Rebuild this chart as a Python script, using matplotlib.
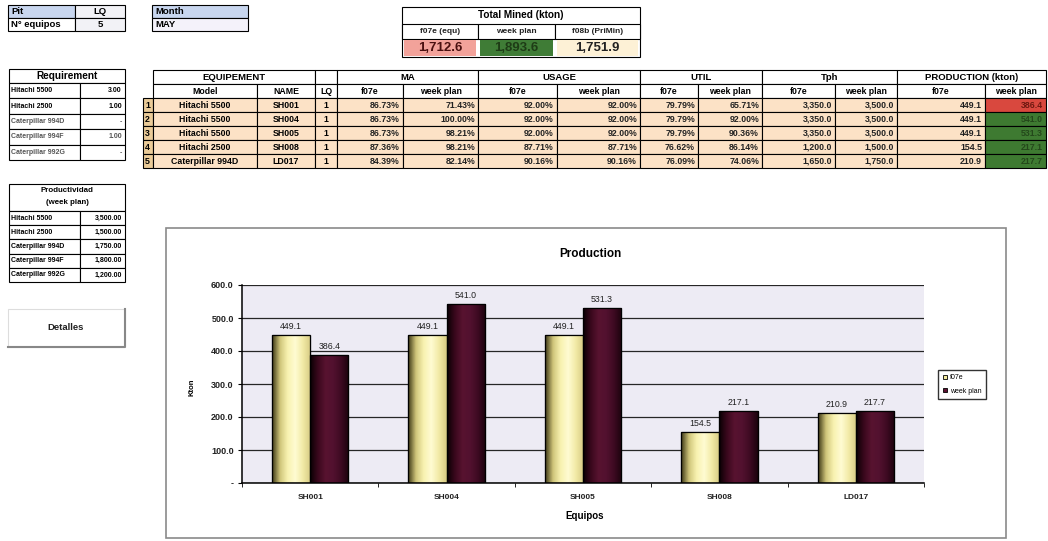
import numpy as np
import matplotlib
matplotlib.use('Agg')
import matplotlib.pyplot as plt
from matplotlib.patches import Rectangle, Patch
from matplotlib.colors import LinearSegmentedColormap

plt.rcParams['font.family'] = ['Liberation Sans', 'DejaVu Sans']

W, H = 1048, 541

# ---- data ----
pit = 'LQ'
n_equipos = 5
month = 'MAY'

total_labels = ['f07e (equ)', 'week plan', 'f08b (PriMin)']
total_values = [1712.6, 1893.6, 1751.9]

req_models = ['Hitachi 5500', 'Hitachi 2500', 'Caterpillar 994D', 'Caterpillar 994F', 'Caterpillar 992G']
req_values = [3.00, 1.00, None, 1.00, None]
rate_week_plan = [3500.00, 1500.00, 1750.00, 1800.00, 1200.00]

models = ['Hitachi 5500', 'Hitachi 5500', 'Hitachi 5500', 'Hitachi 2500', 'Caterpillar 994D']
names = ['SH001', 'SH004', 'SH005', 'SH008', 'LD017']
lq = [1, 1, 1, 1, 1]
ma_f07e = [86.73, 86.73, 86.73, 87.36, 84.39]
ma_week = [71.43, 100.00, 98.21, 98.21, 82.14]
usage_f07e = [92.00, 92.00, 92.00, 87.71, 90.16]
usage_week = [92.00, 92.00, 92.00, 87.71, 90.16]
util_f07e = [79.79, 79.79, 79.79, 76.62, 76.09]
util_week = [65.71, 92.00, 90.36, 86.14, 74.06]
tph_f07e = [3350.0, 3350.0, 3350.0, 1200.0, 1650.0]
tph_week = [3500.0, 3500.0, 3500.0, 1500.0, 1750.0]
prod_f07e = [449.1, 449.1, 449.1, 154.5, 210.9]
prod_week = [386.4, 541.0, 531.3, 217.1, 217.7]

fig = plt.figure(figsize=(W / 100, H / 100), dpi=100)


def box(x0, y0, x1, y1, fc='white', ec='black', lw=0.8, z=1):
    r = Rectangle((x0 / W, 1 - y1 / H), (x1 - x0) / W, (y1 - y0) / H,
                  transform=fig.transFigure, fc=fc, ec=ec, lw=lw, zorder=z)
    fig.add_artist(r)


def txt(x, y, s, ha='center', size=6, color='black', weight='bold', **kw):
    fig.text(x / W, 1 - y / H, s, ha=ha, va='center', fontsize=size,
             color=color, fontweight=weight, **kw)


def cell(x0, y0, x1, y1, s='', fc='white', ha='center', size=6.3, color='black', pad=3, ec='black'):
    box(x0, y0, x1, y1, fc, ec=ec)
    if ha == 'left':
        tx = x0 + pad
    elif ha == 'right':
        tx = x1 - pad
    else:
        tx = (x0 + x1) / 2
    txt(tx, (y0 + y1) / 2, s, ha=ha, size=size, color=color)


# ---- top left cells ----
cell(8, 5, 75, 18, 'Pit', fc='#C8D6EF', ha='left', size=6.8)
cell(75, 5, 125, 18, pit, fc='#F2F2F6', size=6.8)
cell(8, 18, 75, 31, 'N° equipos', ha='left', size=6.8)
cell(75, 18, 125, 31, str(n_equipos), fc='#F2F2F6', size=6.8)
cell(152, 5, 248, 18, 'Month', fc='#C8D6EF', ha='left', size=6.8)
cell(152, 18, 248, 31, month, fc='#F4F2FA', ha='left', size=6.8)

# ---- total mined ----
box(402, 7, 640, 57)
txt(521, 15.5, 'Total Mined (kton)', size=7.2)
tx = [402, 478, 555, 640]
for i, lab in enumerate(total_labels):
    cell(tx[i], 24, tx[i + 1], 39, lab, size=6, color='#222222')
total_fc = ['#F2A29A', '#3F7C36', '#FDF1D6']
total_tc = ['#4A1010', '#1E3C16', '#222222']
for i, v in enumerate(total_values):
    box(tx[i] + 2, 40, tx[i + 1] - 2, 56, fc=total_fc[i], ec='none')
    txt((tx[i] + tx[i + 1]) / 2, 48, f'{v:,.1f}', size=9.5, color=total_tc[i])

# ---- requirement table ----
cell(9, 69, 125, 83, 'Requirement', size=7.2)
for i, (m, v) in enumerate(zip(req_models, req_values)):
    y0 = 83 + i * 15.4
    col = 'black' if m.startswith('Hitachi') else '#555555'
    cell(9, y0, 80, y0 + 15.4, m, ha='left', size=5, color=col, pad=2)
    cell(80, y0, 125, y0 + 15.4, '-' if v is None else f'{v:.2f}', ha='right', size=5, color=col, pad=3)

# ---- productividad table ----
box(9, 184, 125, 211)
txt(67, 191, 'Productividad', size=5.7)
txt(67, 203, '(week plan)', size=5.7)
for i, (m, v) in enumerate(zip(req_models, rate_week_plan)):
    y0 = 211 + i * 14.2
    cell(9, y0, 80, y0 + 14.2, m, ha='left', size=5, pad=2)
    cell(80, y0, 125, y0 + 14.2, f'{v:,.2f}', ha='right', size=5, pad=3)

# ---- Detalles button ----
box(8, 309, 125, 347, fc='white', ec='#DDDDDD', lw=0.8)
fig.add_artist(plt.Line2D([125 / W, 125 / W, 8 / W], [1 - 309 / H, 1 - 347 / H, 1 - 347 / H],
                          transform=fig.transFigure, color='#888888', lw=1.5))
txt(66, 328, 'Detalles', size=6.8, color='#222222')

# ---- main table ----
xs = [143, 153, 257, 315, 337, 403, 478, 557, 640, 698, 762, 835, 897, 985, 1046]
ys = [70, 84, 98, 112, 126, 140, 154, 168]
cell(xs[1], ys[0], xs[3], ys[1], 'EQUIPEMENT', size=6.8)
cell(xs[3], ys[0], xs[4], ys[1], '')
groups = ['MA', 'USAGE', 'UTIL', 'Tph', 'PRODUCTION (kton)']
for g, lab in enumerate(groups):
    cell(xs[4 + 2 * g], ys[0], xs[6 + 2 * g], ys[1], lab, size=6.8)
subs = ['Model', 'NAME', 'LQ'] + ['f07e', 'week plan'] * 5
for j, lab in enumerate(subs):
    cell(xs[1 + j], ys[1], xs[2 + j], ys[2], lab)

peach = '#FCE2C6'
for i in range(5):
    y0, y1 = ys[2 + i], ys[3 + i]
    cell(xs[0], y0, xs[1], y1, str(i + 1), fc='#EACB98', ha='left', pad=2)
    cell(xs[1], y0, xs[2], y1, models[i], fc=peach)
    cell(xs[2], y0, xs[3], y1, names[i], fc=peach)
    cell(xs[3], y0, xs[4], y1, str(lq[i]), fc=peach)
    vals = [f'{ma_f07e[i]:.2f}%', f'{ma_week[i]:.2f}%',
            f'{usage_f07e[i]:.2f}%', f'{usage_week[i]:.2f}%',
            f'{util_f07e[i]:.2f}%', f'{util_week[i]:.2f}%',
            f'{tph_f07e[i]:,.1f}', f'{tph_week[i]:,.1f}',
            f'{prod_f07e[i]:.1f}']
    for j, s in enumerate(vals):
        cell(xs[4 + j], y0, xs[5 + j], y1, s, fc=peach, ha='right', color='#222222')
    if prod_week[i] < prod_f07e[i]:
        fc, tc = '#D9483E', '#6E1810'
    else:
        fc, tc = '#3E7A31', '#24481B'
    cell(xs[13], y0, xs[14], y1, f'{prod_week[i]:.1f}', fc=fc, ha='right', color=tc)

# ---- chart ----
box(166, 228, 1006, 538, fc='white', ec='#8A8A8A', lw=1.2, z=-5)
ax = fig.add_axes([242 / W, 1 - 483 / H, 682 / W, 198 / H])
ax.set_facecolor('#EDEBF4')

x = np.arange(len(names))
w = 0.28
c_f07e = '#F3EBA0'
c_week = '#5C1232'
bars1 = ax.bar(x - w / 2, prod_f07e, w, color=c_f07e, edgecolor='black', lw=0.8, zorder=2)
bars2 = ax.bar(x + w / 2, prod_week, w, color=c_week, edgecolor='black', lw=0.8, zorder=2)

cm1 = LinearSegmentedColormap.from_list('cream', ['#3E3816', '#CFC57A', '#F8F2B0', '#FFFBD2', '#F2EAA6', '#D6CB84'])
cm2 = LinearSegmentedColormap.from_list('maroon', ['#0A0003', '#3A081D', '#581330', '#52112F', '#3E0A22', '#1C030D'])
grad = np.linspace(0, 1, 64).reshape(1, -1)
for bars, cm in [(bars1, cm1), (bars2, cm2)]:
    for p in bars:
        bx, by = p.get_x(), p.get_y()
        im = ax.imshow(grad, extent=[bx, bx + p.get_width(), by, by + p.get_height()],
                       cmap=cm, aspect='auto', zorder=2.5, interpolation='bilinear')
        im.set_clip_path(p)
        ax.add_patch(Rectangle((bx, by), p.get_width(), p.get_height(),
                               fc='none', ec='black', lw=0.9, zorder=3))

for bars, vals in [(bars1, prod_f07e), (bars2, prod_week)]:
    for p, v in zip(bars, vals):
        ax.annotate(f'{v:.1f}', (p.get_x() + p.get_width() / 2, v), xytext=(0, 3),
                    textcoords='offset points', ha='center', va='bottom', fontsize=6.3,
                    color='#222222')

ax.set_xlim(-0.5, 4.5)
ax.set_ylim(0, 600)
ax.set_yticks(range(0, 700, 100))
ax.set_yticklabels(['-' if v == 0 else f'{v:.1f}' for v in range(0, 700, 100)])
ax.yaxis.grid(True, color='#262626', lw=0.9)
ax.set_axisbelow(True)
ax.set_xticks(x)
ax.set_xticklabels(names)
ax.set_xticks(np.arange(-0.5, 5), minor=True)
ax.tick_params(axis='x', which='major', length=0, labelsize=6, pad=8)
ax.tick_params(axis='x', which='minor', length=3, direction='out')
ax.tick_params(axis='y', length=3, direction='out', labelsize=6.5, pad=3)
for lab in ax.get_xticklabels() + ax.get_yticklabels():
    lab.set_fontweight('bold')
    lab.set_color('#222222')
for s in ['top', 'right']:
    ax.spines[s].set_visible(False)
ax.spines['left'].set_linewidth(1.1)
ax.spines['bottom'].set_linewidth(1.1)

ax.set_xlabel('Equipos', fontsize=7, fontweight='bold')
ax.xaxis.set_label_coords(0.503, -(511 - 483) / 198)
ax.set_ylabel('Kton', fontsize=5.5, fontweight='bold')
ax.yaxis.set_label_coords(-0.068, 0.485)
txt(590, 254, 'Production', size=8.5)

handles = [Patch(fc=c_f07e, ec='black', lw=0.6), Patch(fc=c_week, ec='black', lw=0.6)]
leg = fig.legend(handles, ['f07e', 'week plan'], loc='center left',
                 bbox_to_anchor=(935 / W, 1 - 384.5 / H), fontsize=5, frameon=True,
                 fancybox=False, edgecolor='black', handlelength=0.6, handleheight=0.6,
                 handletextpad=0.3, borderpad=0.7, labelspacing=0.9)
leg.get_frame().set_linewidth(1.0)

fig.savefig('out.png', dpi=100)
